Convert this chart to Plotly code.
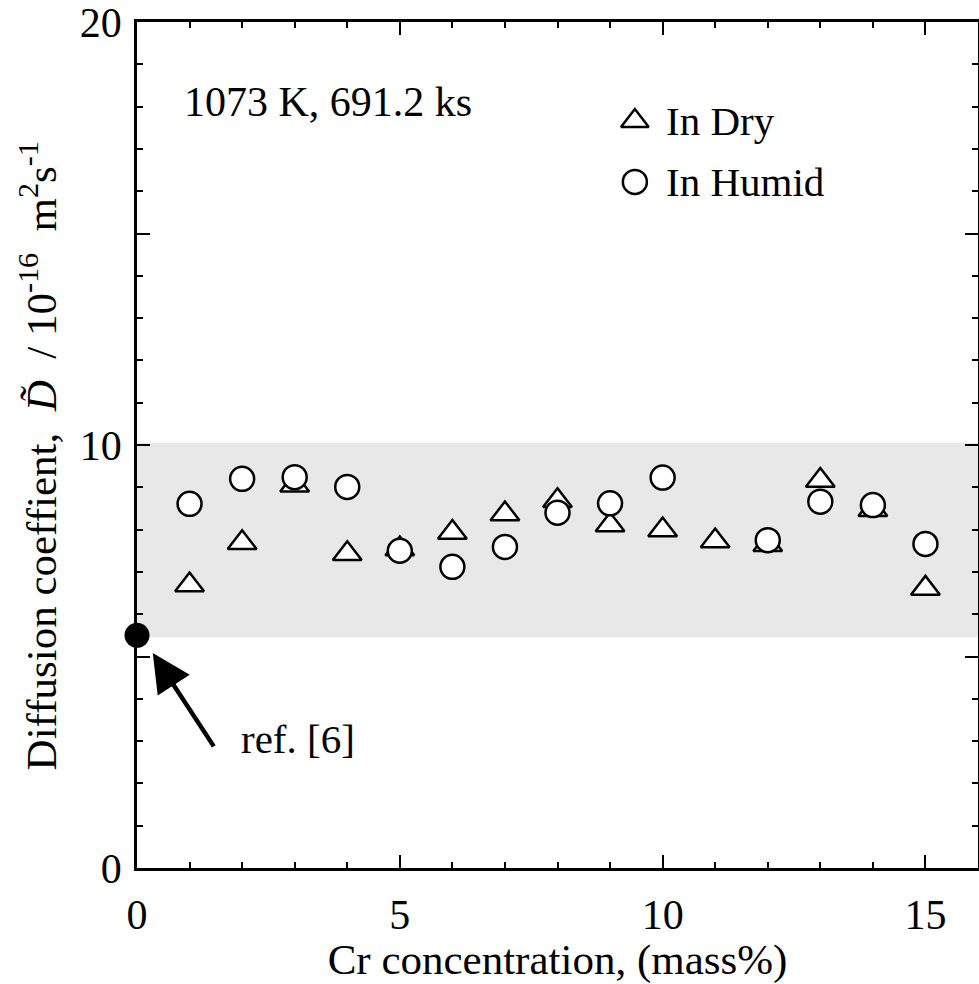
import plotly.graph_objects as go

# ---- data ----
cr_dry = [1, 2, 3, 4, 5, 6, 7, 8, 9, 10, 11, 12, 13, 14, 15]
d_dry = [6.69, 7.69, 9.05, 7.43, 7.54, 7.93, 8.37, 8.68, 8.11, 7.99, 7.73, 7.64, 9.16, 8.47, 6.61]

cr_humid = [1, 2, 3, 4, 5, 6, 7, 8, 9, 10, 12, 13, 14, 15]
d_humid = [8.61, 9.20, 9.24, 9.01, 7.50, 7.12, 7.59, 8.40, 8.62, 9.23, 7.75, 8.66, 8.58, 7.66]

ref_cr = [0]
ref_d = [5.5]

band_d = [5.45, 10.05]          # shaded range of D
x_range = [0, 16]
y_range = [0, 20]
x_tickvals = [0, 5, 10, 15]
y_tickvals = [0, 5, 10, 15, 20]
y_ticktext = ["0", "", "10", "", "20"]

# legend key layout (paper fractions)
legend_names = ["In Dry", "In Humid"]
legend_symbols = ["triangle-up-open", "circle-open"]
legend_x = 0.592
legend_text_x = 0.627
legend_y = [0.883, 0.811]

FONT = "Liberation Serif"
SP = "&nbsp;"

fig = go.Figure()

fig.add_shape(type="rect", xref="paper", x0=0, x1=1, yref="y",
              y0=band_d[0], y1=band_d[1], fillcolor="#e8e8e8",
              line=dict(width=0), layer="below")

fig.add_trace(go.Scatter(x=cr_dry, y=d_dry, mode="markers", name="In Dry",
                         marker=dict(symbol="triangle-up", size=25, color="white",
                                     line=dict(color="black", width=2.5)),
                         showlegend=False))
fig.add_trace(go.Scatter(x=cr_humid, y=d_humid, mode="markers", name="In Humid",
                         marker=dict(symbol="circle", size=24, color="white",
                                     line=dict(color="black", width=2.5)),
                         showlegend=False))
fig.add_trace(go.Scatter(x=ref_cr, y=ref_d, mode="markers", name="ref. [6]",
                         marker=dict(symbol="circle", size=25, color="black"),
                         cliponaxis=False, showlegend=False))

# legend keys on an overlay axis spanning the plot area
for sym, yk in zip(legend_symbols, legend_y):
    fig.add_trace(go.Scatter(x=[legend_x], y=[yk], mode="markers", xaxis="x2", yaxis="y2",
                             marker=dict(symbol=sym, size=24, color="black",
                                         line=dict(color="black", width=2.5)),
                             showlegend=False, hoverinfo="skip"))
for name, yk in zip(legend_names, legend_y):
    fig.add_annotation(x=legend_text_x, y=yk, xref="paper", yref="paper", text=name,
                       showarrow=False, xanchor="left", yanchor="middle",
                       font=dict(family=FONT, size=41, color="black"))

fig.add_annotation(x=0.85, y=18.1, xref="x", yref="y", text="1073 K, 691.2 ks",
                   showarrow=False, xanchor="left", yanchor="middle",
                   font=dict(family=FONT, size=42, color="black"))

fig.add_annotation(x=0.30, y=5.08, xref="x", yref="y", ax=1.48, ay=2.84,
                   axref="x", ayref="y", text="", showarrow=True,
                   arrowhead=2, arrowsize=1.7, arrowwidth=4.5, arrowcolor="black")
fig.add_annotation(x=1.94, y=3.05, xref="x", yref="y", text="ref. [6]",
                   showarrow=False, xanchor="left", yanchor="middle",
                   font=dict(family=FONT, size=41, color="black"))

axis_common = dict(showline=True, linewidth=2.5, linecolor="black", mirror="allticks",
                   ticks="inside", ticklen=13, tickwidth=2, tickcolor="black",
                   showgrid=False, zeroline=False, automargin=False,
                   ticklabeloverflow="allow",
                   tickfont=dict(family=FONT, size=42, color="black"))

y_title = ("Diffusion coeffient," + SP * 2 + "<i>D̃</i>" + SP * 2 + "/" + SP +
           "10<sup>-16</sup>" + SP * 2 + "m<sup>2</sup>s<sup>-1</sup>" + SP * 2)

fig.update_layout(
    width=979, height=984,
    margin=dict(l=137, r=1, t=22, b=116),
    paper_bgcolor="white", plot_bgcolor="white",
    font=dict(family=FONT, color="black"),
    xaxis=dict(range=x_range, tickvals=x_tickvals, ticklabelstandoff=8,
               minor=dict(dtick=1, tick0=0, ticks="inside", ticklen=6, tickwidth=2,
                          tickcolor="black", showgrid=False),
               title=dict(text="Cr concentration, (mass%)",
                          font=dict(family=FONT, size=43, color="black"), standoff=0),
               **axis_common),
    yaxis=dict(range=y_range, tickvals=y_tickvals, ticktext=y_ticktext, ticklabelstandoff=4,
               minor=dict(dtick=1, tick0=0, ticks="inside", ticklen=6, tickwidth=2,
                          tickcolor="black", showgrid=False),
               title=dict(text=y_title,
                          font=dict(family=FONT, size=43, color="black"), standoff=10),
               **axis_common),
    xaxis2=dict(range=[0, 1], overlaying="x", visible=False, fixedrange=True),
    yaxis2=dict(range=[0, 1], overlaying="y", visible=False, fixedrange=True),
    showlegend=False,
)

fig.write_html("out.html", config={"displayModeBar": False},
               post_script="document.body.style.margin='0';")
